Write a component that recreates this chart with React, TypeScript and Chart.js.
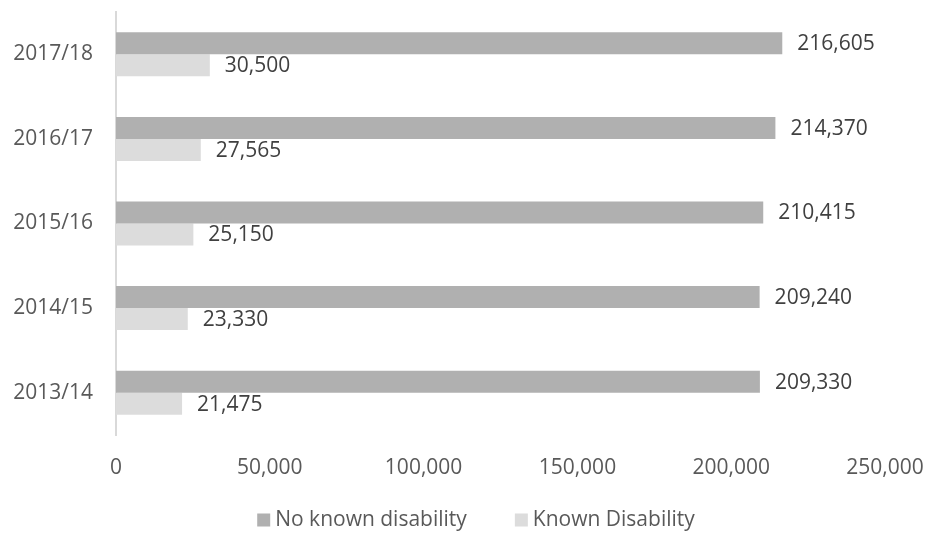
import React, { useEffect, useRef } from "react";
import { Chart, registerables } from "chart.js";

Chart.register(...registerables);

const categories = ["2017/18", "2016/17", "2015/16", "2014/15", "2013/14"];
const noKnownDisability = [216605, 214370, 210415, 209240, 209330];
const knownDisability = [30500, 27565, 25150, 23330, 21475];
const seriesLabels = ["No known disability", "Known Disability"];
const xMin = 0;
const xMax = 250000;
const xStep = 50000;

const FONT = "'Open Sans', 'DejaVu Sans', sans-serif";
const FONT_SIZE = 21;

const fmt = (v: number) => v.toLocaleString("en-US");

const dataLabelPlugin = {
  id: "dataLabels",
  afterDatasetsDraw(chart: any) {
    const ctx = chart.ctx;
    ctx.save();
    ctx.font = `${FONT_SIZE}px ${FONT}`;
    ctx.fillStyle = "#404040";
    ctx.textAlign = "left";
    ctx.textBaseline = "middle";
    chart.data.datasets.forEach((ds: any, di: number) => {
      const meta = chart.getDatasetMeta(di);
      meta.data.forEach((bar: any, i: number) => {
        ctx.fillText(fmt(ds.data[i]), bar.x + 15, bar.y + 1);
      });
    });
    ctx.restore();
  },
};

const legendPlugin = {
  id: "customLegend",
  afterDraw(chart: any) {
    const ctx = chart.ctx;
    ctx.save();
    ctx.font = `${FONT_SIZE}px ${FONT}`;
    ctx.textBaseline = "middle";
    ctx.textAlign = "left";
    const box = 13;
    const gap = 5;
    const spacing = 48;
    const items = chart.data.datasets.map((ds: any) => ({
      text: ds.label,
      color: ds.backgroundColor,
      w: box + gap + ctx.measureText(ds.label).width,
    }));
    const total = items.reduce((s: number, it: any) => s + it.w, 0) + spacing * (items.length - 1);
    let x = 476 - total / 2;
    const y = 520;
    items.forEach((it: any) => {
      ctx.fillStyle = it.color;
      ctx.fillRect(x, y - box / 2, box, box);
      ctx.fillStyle = "#595959";
      ctx.fillText(it.text, x + box + gap, y);
      x += it.w + spacing;
    });
    ctx.restore();
  },
};

export default function App() {
  const canvasRef = useRef<HTMLCanvasElement | null>(null);

  useEffect(() => {
    if (!canvasRef.current) return;
    const chart = new Chart(canvasRef.current, {
      type: "bar",
      data: {
        labels: categories,
        datasets: [
          {
            label: seriesLabels[0],
            data: noKnownDisability,
            backgroundColor: "#b0b0b0",
            categoryPercentage: 0.52,
            barPercentage: 1.0,
          },
          {
            label: seriesLabels[1],
            data: knownDisability,
            backgroundColor: "#dcdcdc",
            categoryPercentage: 0.52,
            barPercentage: 1.0,
          },
        ],
      },
      options: {
        indexAxis: "y",
        animation: false,
        responsive: true,
        maintainAspectRatio: false,
        layout: { padding: { top: 12, right: 43, bottom: 52, left: 0 } },
        plugins: {
          legend: { display: false },
          tooltip: { enabled: false },
        },
        scales: {
          x: {
            min: xMin,
            max: xMax,
            grid: { display: false, drawTicks: false },
            border: { display: false },
            ticks: {
              stepSize: xStep,
              padding: 20,
              color: "#595959",
              font: { family: FONT, size: FONT_SIZE },
              callback: (v: any) => fmt(Number(v)),
              maxRotation: 0,
            },
            afterFit: (scale: any) => {
              scale.height = 50;
              scale.paddingLeft = 0;
              scale.paddingRight = 0;
            },
          },
          y: {
            grid: { display: false, drawTicks: false },
            border: { display: true, color: "#d9d9d9", width: 2 },
            ticks: {
              padding: 23,
              color: "#595959",
              font: { family: FONT, size: FONT_SIZE },
            },
            afterFit: (scale: any) => {
              scale.width = 116;
              scale.paddingTop = 0;
              scale.paddingBottom = 0;
            },
          },
        },
      },
      plugins: [dataLabelPlugin, legendPlugin],
    });
    return () => chart.destroy();
  }, []);

  return (
    <div style={{ position: "absolute", left: 0, top: 0, width: 928, height: 537, background: "#fff" }}>
      <canvas ref={canvasRef} />
    </div>
  );
}
